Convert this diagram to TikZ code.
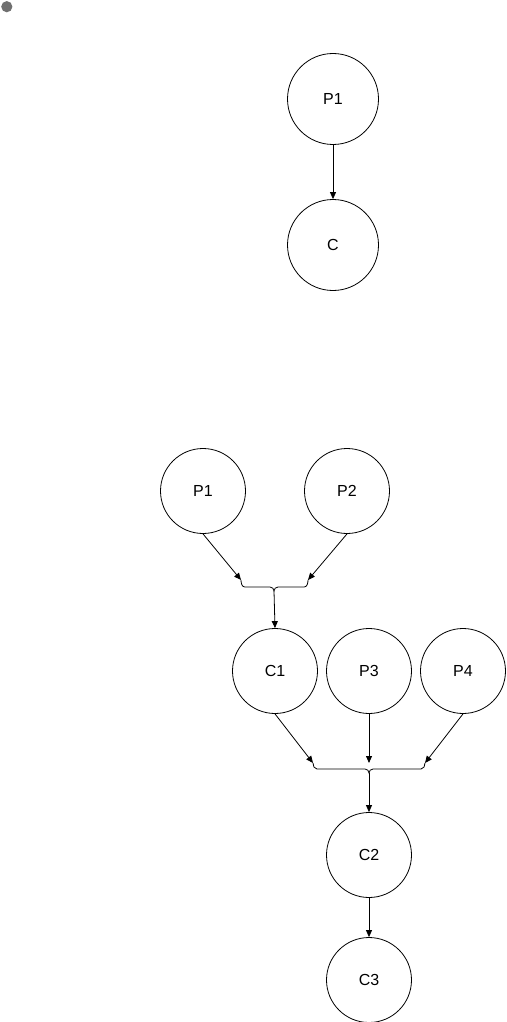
\documentclass[tikz,border=0pt]{standalone}
\usepackage{fontspec}
\setmainfont{Liberation Sans}
\usetikzlibrary{arrows.meta}
\definecolor{dotgray}{HTML}{707070}
\begin{document}
\begin{tikzpicture}[x=1pt,y=-1pt,
  st/.style={circle,draw,line width=0.8pt,minimum size=85pt,inner sep=0pt,font=\fontsize{16}{18}\selectfont},
  bigst/.style={st,minimum size=91pt},
  arr/.style={line width=0.8pt,-{Triangle[width=6pt,length=7pt]}},
  brace/.style={line width=0.8pt}]
\useasboundingbox (0,0) rectangle (506,1022);
\fill[dotgray] (6.8,6.7) circle (5.6);
% top
\node[bigst] (tp1) at (333,99) {P1};
\node[bigst] (tc) at (333,245) {C};
\draw[arr] (tp1.south) -- (tc.north);
% second diagram
\node[st] (p1) at (203,491) {P1};
\node[st] (p2) at (347,491) {P2};
\node[st] (c1) at (275,671) {C1};
\node[st] (p3) at (369,671) {P3};
\node[st] (p4) at (463,671) {P4};
\node[st] (c2) at (369,855) {C2};
\node[st] (c3) at (369,980) {C3};
% brace 1
\coordinate (b1l) at (241,580);
\coordinate (b1r) at (308,580);
\coordinate (b1m) at (274,591);
\draw[arr] (p1.south) -- (b1l);
\draw[arr] (p2.south) -- (b1r);
\draw[brace] (b1l) to[out=-90,in=180] (245,587) -- (270,587) to[out=0,in=90] (b1m)
  to[out=90,in=180] (278,587) -- (304,587) to[out=0,in=-90] (b1r);
\draw[arr] (b1m) -- (c1.north);
% brace 2
\coordinate (b2l) at (313,763);
\coordinate (b2m3) at (369,763);
\coordinate (b2r) at (425,763);
\coordinate (b2m) at (369,773);
\draw[arr] (c1.south) -- (b2l);
\draw[arr] (p3.south) -- (b2m3);
\draw[arr] (p4.south) -- (b2r);
\draw[brace] (b2l) to[out=-90,in=180] (317,769) -- (365,769) to[out=0,in=90] (b2m)
  to[out=90,in=180] (373,769) -- (421,769) to[out=0,in=-90] (b2r);
\draw[arr] (b2m) -- (c2.north);
\draw[arr] (c2.south) -- (c3.north);
\end{tikzpicture}
\end{document}
